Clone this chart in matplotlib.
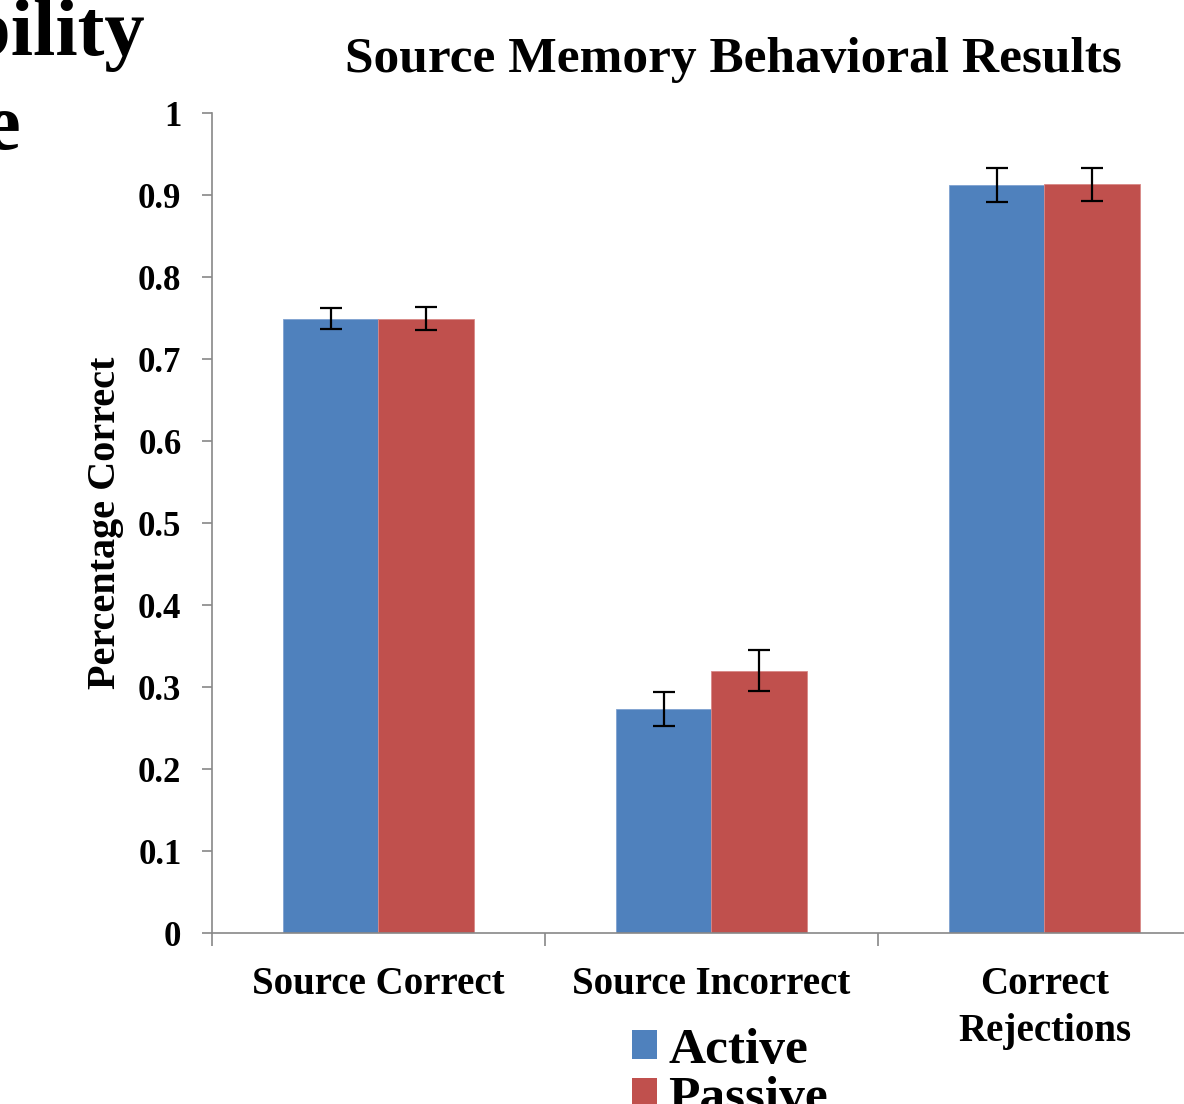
import matplotlib
matplotlib.use("Agg")
import matplotlib.pyplot as plt
from matplotlib.patches import Patch
import numpy as np

categories = ["Source Correct", "Source Incorrect", "Correct\nRejections"]
series_names = ["Active", "Passive"]
active = [0.749, 0.273, 0.912]
passive = [0.749, 0.320, 0.913]
active_err = [0.013, 0.021, 0.021]
passive_err = [0.014, 0.025, 0.020]
yticks = [0, 0.1, 0.2, 0.3, 0.4, 0.5, 0.6, 0.7, 0.8, 0.9, 1]
ytick_labels = ["0", "0.1", "0.2", "0.3", "0.4", "0.5", "0.6", "0.7", "0.8", "0.9", "1"]

BLUE = "#4F81BD"
RED = "#C0504D"
FONT = "Liberation Serif"

plt.rcParams["font.family"] = [FONT, "DejaVu Serif"]
plt.rcParams["font.weight"] = "bold"

fig = plt.figure(figsize=(11.84, 11.04), dpi=100)
ax = fig.add_axes([212/1184, 1-933/1104, 999/1184, 820/1104])

x = np.arange(len(categories))
w = 0.286
ax.bar(x - w/2, active, width=w, color=BLUE, edgecolor="#7FA2D0", linewidth=0.6,
       yerr=active_err, error_kw=dict(ecolor="black", elinewidth=1.6, capsize=8, capthick=1.6))
ax.bar(x + w/2, passive, width=w, color=RED, edgecolor="#D98886", linewidth=0.6,
       yerr=passive_err, error_kw=dict(ecolor="black", elinewidth=1.6, capsize=8, capthick=1.6))

ax.set_xlim(-0.5, 2.5)
ax.set_ylim(0, 1)
ax.set_yticks(yticks)
ax.set_yticklabels(ytick_labels, fontsize=25, fontweight="bold")
ax.set_xticks([-0.5, 0.5, 1.5, 2.5])
ax.set_xticklabels([])
ax.set_xticks(x, minor=True)
ax.set_xticklabels(categories, minor=True, fontsize=28, fontweight="bold", linespacing=1.35)
ax.tick_params(axis="x", which="minor", length=0, pad=24)
ax.tick_params(axis="x", which="major", length=9, color="#888888", width=1.2)
ax.tick_params(axis="y", length=7, color="#888888", width=1.2, pad=15)
for s in ["top", "right"]:
    ax.spines[s].set_visible(False)
for s in ["left", "bottom"]:
    ax.spines[s].set_color("#888888")
    ax.spines[s].set_linewidth(1.2)

ax.set_ylabel("Percentage Correct", fontsize=29, fontweight="bold", labelpad=10)
fig.text(733/1184, 1-60/1104, "Source Memory Behavioral Results", ha="center", va="center",
         fontsize=37, fontweight="bold")

# slide artifacts at top-left
fig.text(145/1184, 1-36/1104, "bility", ha="right", va="center", fontsize=58, fontweight="bold")
fig.text(-16/1184, 1-130/1104, "e", ha="left", va="center", fontsize=58, fontweight="bold")

handles = [Patch(facecolor=BLUE), Patch(facecolor=RED)]
fig.legend(handles, series_names, loc="upper left", bbox_to_anchor=(611/1184, 1-1007/1104),
           frameon=False, prop={"weight": "bold", "size": 37},
           handlelength=0.5, handleheight=0.5, handletextpad=0.22, labelspacing=0.05,
           borderaxespad=0)

fig.savefig("out.png", dpi=100)
